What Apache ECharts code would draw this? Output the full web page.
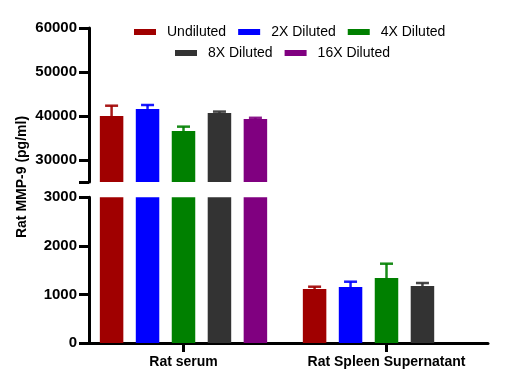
<!DOCTYPE html>
<html><head><meta charset="utf-8">
<script src="https://cdn.jsdelivr.net/npm/echarts@6/dist/echarts.min.js"></script>
<style>html,body{margin:0;padding:0;background:#fff}#c{width:528px;height:389px}</style>
</head><body><div id="c"></div>
<script>
var categories = ['Rat serum', 'Rat Spleen Supernatant'];
var seriesNames = ['Undiluted', '2X Diluted', '4X Diluted', '8X Diluted', '16X Diluted'];
var colors = ['#A00000', '#0000FF', '#008000', '#333333', '#800080'];
var undiluted = [40000, 1112];
var undilutedErr = [2340, 47];
var diluted2X = [41600, 1153];
var diluted2XErr = [900, 109];
var diluted4X = [36600, 1338];
var diluted4XErr = [980, 295];
var diluted8X = [40700, 1174];
var diluted8XErr = [300, 61];
var diluted16X = [39300, null];
var diluted16XErr = [290, null];
var upperTicks = [25000, 30000, 40000, 50000, 60000];
var upperLabels = [30000, 40000, 50000, 60000];

var values = [undiluted, diluted2X, diluted4X, diluted8X, diluted16X];
var errors = [undilutedErr, diluted2XErr, diluted4XErr, diluted8XErr, diluted16XErr];
var UPPER_MIN = 25000, UPPER_MAX = 60000, LOWER_MAX = 3000;
var BAR_W = 23.5, BAR_GAP = '53%';

var font = 'Liberation Sans, Arial, sans-serif';
var chart = echarts.init(document.getElementById('c'));

var series = [];
seriesNames.forEach(function (name, k) {
  var vals = values[k];
  series.push({
    type: 'bar', name: name, xAxisIndex: 0, yAxisIndex: 0,
    barWidth: BAR_W, barGap: BAR_GAP, itemStyle: { color: colors[k] },
    data: vals.map(function (v) { return (v != null && v >= UPPER_MIN) ? v : null; }),
    silent: true, animation: false
  });
  series.push({
    type: 'bar', name: name, xAxisIndex: 1, yAxisIndex: 1,
    barWidth: BAR_W, barGap: BAR_GAP, itemStyle: { color: colors[k] },
    data: vals.slice(), silent: true, animation: false
  });
});

function errSeries(k, gridIdx) {
  var vals = values[k], errs = errors[k];
  var data = [];
  vals.forEach(function (v, i) {
    if (v == null || errs[i] == null) return;
    if (gridIdx === 0 && v < UPPER_MIN) return;
    if (gridIdx === 1 && v > LOWER_MAX) return;
    data.push([i, v, v + errs[i]]);
  });
  return {
    type: 'custom', name: seriesNames[k], xAxisIndex: gridIdx, yAxisIndex: gridIdx,
    data: data, silent: true, animation: false, z: 3,
    renderItem: function (params, api) {
      var ci = api.value(0);
      var layout = api.barLayout({ barWidth: BAR_W, barGap: BAR_GAP, count: 5 });
      var off = layout[k].offsetCenter;
      var p0 = api.coord([ci, api.value(1)]);
      var p1 = api.coord([ci, api.value(2)]);
      var x = p0[0] + off;
      var capHalf = 6.5;
      var style = { stroke: colors[k], lineWidth: 2.5, opacity: 0.9 };
      return {
        type: 'group',
        children: [
          { type: 'line', shape: { x1: x, y1: p0[1], x2: x, y2: p1[1] }, style: style },
          { type: 'line', shape: { x1: x - capHalf, y1: p1[1], x2: x + capHalf, y2: p1[1] }, style: style }
        ]
      };
    }
  };
}
for (var k = 0; k < 5; k++) { series.push(errSeries(k, 0)); series.push(errSeries(k, 1)); }

function plain(v) { return String(v); }

var legendText = { fontFamily: font, fontSize: 14, color: '#000', padding: [0, 0, 0, 6] };
var option = {
  backgroundColor: '#fff',
  animation: false,
  color: colors,
  legend: [
    { data: seriesNames.slice(0, 3), left: 134, top: 25, padding: 0, itemWidth: 22, itemHeight: 6, itemGap: 12,
      icon: 'rect', textStyle: legendText, selectedMode: false },
    { data: seriesNames.slice(3), left: 175, top: 46, padding: 0, itemWidth: 22, itemHeight: 6, itemGap: 12,
      icon: 'rect', textStyle: legendText, selectedMode: false }
  ],
  grid: [
    { left: 82, right: 40, top: 28, height: 154 },
    { left: 82, right: 40, top: 197.3, height: 145.7 }
  ],
  xAxis: [
    { type: 'category', gridIndex: 0, data: categories, show: false, position: 'bottom' },
    { type: 'category', gridIndex: 1, data: categories, position: 'bottom',
      axisLine: { show: true, onZero: false, lineStyle: { color: '#000', width: 3 } },
      axisTick: { show: true, alignWithLabel: true, interval: 0, length: 8, lineStyle: { color: '#000', width: 3 } },
      axisLabel: { interval: 0, color: '#000', fontFamily: font, fontWeight: 'bold', fontSize: 14, margin: 12 } }
  ],
  yAxis: [
    { type: 'value', gridIndex: 0, min: UPPER_MIN, max: UPPER_MAX, offset: -7,
      splitLine: { show: false },
      axisLine: { show: true, lineStyle: { color: '#000', width: 3 } },
      axisTick: { show: true, length: 10, customValues: upperTicks, lineStyle: { color: '#000', width: 3 } },
      axisLabel: { customValues: upperLabels, formatter: plain, color: '#000', fontFamily: font, fontWeight: 'bold', fontSize: 15, margin: 12 } },
    { type: 'value', gridIndex: 1, min: 0, max: LOWER_MAX, interval: 1000, offset: -7,
      splitLine: { show: false },
      axisLine: { show: true, lineStyle: { color: '#000', width: 3 } },
      axisTick: { show: true, length: 10, lineStyle: { color: '#000', width: 3 } },
      axisLabel: { formatter: plain, color: '#000', fontFamily: font, fontWeight: 'bold', fontSize: 15, margin: 12 } }
  ],
  graphic: [
    { type: 'text', x: 22, y: 177, rotation: Math.PI / 2,
      style: { text: 'Rat MMP-9 (pg/ml)', fontFamily: font, fontWeight: 'bold', fontSize: 14, fill: '#000',
        align: 'center', verticalAlign: 'middle' } }
  ],
  series: series
};
chart.setOption(option);

// category tick marks below the x axis, placed through the library's own axes
try {
  var tickGraphics = [];
  categories.forEach(function (c, i) {
    var p = chart.convertToPixel({ gridIndex: 1 }, [i, 0]);
    if (!p || isNaN(p[0]) || isNaN(p[1])) {
      p = [chart.convertToPixel({ xAxisIndex: 1 }, c), chart.convertToPixel({ yAxisIndex: 1 }, 0)];
    }
    if (p && !isNaN(p[0]) && !isNaN(p[1])) {
      tickGraphics.push({ type: 'line', z: 100, silent: true,
        shape: { x1: p[0], y1: p[1], x2: p[0], y2: p[1] + 9 },
        style: { stroke: '#000', lineWidth: 3 } });
    }
  });
  chart.setOption({ graphic: option.graphic.concat(tickGraphics) });
} catch (e) { /* leave chart as is */ }
</script>
</body></html>
